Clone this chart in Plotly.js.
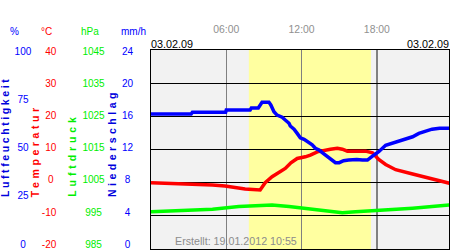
<!DOCTYPE html>
<html>
<head>
<meta charset="utf-8">
<script src="https://cdn.plot.ly/plotly-3.0.1.min.js"></script>
<style>
html,body{margin:0;padding:0;background:#fff;}
#chart{width:450px;height:250px;}
</style>
</head>
<body>
<div id="chart"></div>
<script>
// ---- data (hours of 03.02.09) ----
const humidityTime = [0.0,3.2,3.3,5.95,6.0,7.9,8.0,8.55,8.85,9.4,9.55,9.8,10.05,10.45,10.7,11.0,11.1,11.4,11.65,11.9,12.2,12.6,12.85,13.1,13.4,13.65,13.9,14.2,14.45,14.7,15.0,15.35,15.75,16.4,16.85,17.25,17.65,18.15,18.7,19.25,19.75,20.3,20.85,21.35,21.9,22.4,23.0,23.8];
const humidity = [67.8,67.8,68.7,68.7,69.8,69.8,70.9,70.9,73.7,73.7,72.4,69.0,67.3,66.2,64.8,63.2,61.8,60.2,58.1,55.9,55.1,53.4,52.3,50.6,49.7,48.4,47.2,45.9,44.4,43.4,43.4,44.4,44.7,45.0,44.7,44.7,46.7,48.9,52.1,53.1,54.3,55.3,56.4,58.1,59.4,60.2,60.7,60.7];

const temperatureTime = [0.0,2.2,4.9,5.9,7.5,8.7,9.1,9.65,10.2,10.7,11.15,11.65,12.3,12.7,13.25,13.8,14.3,14.85,15.25,15.65,16.3,17.1,17.65,18.15,18.7,19.5,20.85,22.15,23.8];
const temperature = [0.0,-0.2,-0.7,-1.0,-1.9,-2.2,0.0,1.8,3.0,4.3,6.0,7.3,7.8,8.3,9.3,9.8,10.1,10.4,10.1,9.5,9.5,9.5,9.0,7.0,5.5,3.9,2.6,1.3,-0.2];

const pressureTime = [0.0,2.2,4.9,7.0,8.3,9.65,11.0,12.05,13.4,14.45,15.25,16.3,17.65,19.25,20.85,22.4,23.8];
const pressure = [996.2,996.5,997.0,997.8,998.1,998.3,997.8,997.3,996.8,996.2,995.9,996.2,996.5,996.8,997.3,997.8,998.3];

const daylight = [7.8, 17.53];   // sunrise, sunset (hours)

const hourTicks = [6, 12, 18];
const hourLabels = ['06:00', '12:00', '18:00'];

const humidityTicks = [0, 25, 50, 75, 100];
const humidityLabels = ['0', '25', '50', '75', '100'];
const temperatureTicks = [-20, -10, 0, 10, 20, 30, 40];
const temperatureLabels = ['-20', '-10', '0', '10', '20', '30', '40'];
const pressureTicks = [985, 995, 1005, 1015, 1025, 1035, 1045];
const pressureLabels = ['985', '995', '1005', '1015', '1025', '1035', '1045'];
const rainTicks = [0, 4, 8, 12, 16, 20, 24];
const rainLabels = ['0', '4', '8', '12', '16', '20', '24'];

const dateLabel = '03.02.09';
const createdLabel = 'Erstellt: 19.01.2012 10:55';

// ---- layout helpers ----
const W = 450, H = 250;
const plotL = 151, plotR = 449, plotT = 50, plotB = 249;
const labelTop = 51, labelBot = 244.3;
const px = x => x / W;
const py = y => (H - y) / H;

function labelRange(vals) {
  const vmin = Math.min(...vals), vmax = Math.max(...vals);
  const s = (labelBot - labelTop) / (vmax - vmin);
  return [vmin - (plotB - labelBot) / s, vmax + (labelTop - plotT) / s];
}
const emW = c => (c === '-' ? 0.333 : 0.556);
function centered(labels) {
  const w = labels.map(t => [...t].reduce((a, c) => a + emW(c), 0));
  const m = Math.max(...w);
  return labels.map((t, i) => t + '\u00a0'.repeat(Math.floor((m - w[i]) / 2 / 0.278 + 0.001)));
}

const BLUE = '#0000ff', RED = '#ff0000', GREEN = '#00ee00';
const FONT = 'Liberation Sans, Arial, sans-serif';

function labelAxis(ticks, labels, rightEdge, color) {
  return {
    overlaying: 'y', anchor: 'free', position: px(rightEdge + 3), side: 'left',
    range: labelRange(ticks), tickvals: ticks, ticktext: centered(labels),
    showgrid: false, zeroline: false, showline: false, ticks: '',
    tickfont: {family: FONT, size: 10, color: color}, fixedrange: true
  };
}

const traces = [
  {x: temperatureTime, y: temperature, yaxis: 'y', type: 'scatter', mode: 'lines',
   line: {color: RED, width: 3.5}, hoverinfo: 'skip'},
  {x: humidityTime, y: humidity, yaxis: 'y2', type: 'scatter', mode: 'lines',
   line: {color: BLUE, width: 3.5}, hoverinfo: 'skip'},
  {x: pressureTime, y: pressure, yaxis: 'y3', type: 'scatter', mode: 'lines',
   line: {color: '#00ff00', width: 3.5}, hoverinfo: 'skip'},
  {x: [], y: [], yaxis: 'y4', type: 'scatter', mode: 'lines', hoverinfo: 'skip'},
  {x: [], y: [], yaxis: 'y5', type: 'scatter', mode: 'lines', hoverinfo: 'skip'},
  {x: [], y: [], yaxis: 'y6', type: 'scatter', mode: 'lines', hoverinfo: 'skip'},
  {x: [], y: [], yaxis: 'y7', type: 'scatter', mode: 'lines', hoverinfo: 'skip'}
];

function title(text, cx, color, spacing) {
  return {text: '<span style="letter-spacing:' + spacing + 'px">' + text + '</span>',
    xref: 'paper', yref: 'paper', x: px(cx), y: py(199), xanchor: 'center', yanchor: 'bottom',
    textangle: -90, showarrow: false, font: {family: FONT, size: 10.5, color: color, weight: 'bold'}};
}
function header(text, cx, color) {
  return {text: text, xref: 'paper', yref: 'paper', x: px(cx), y: py(31),
    xanchor: 'center', yanchor: 'middle', showarrow: false,
    font: {family: FONT, size: 10, color: color}};
}

const layout = {
  width: W, height: H, margin: {l: 0, r: 0, t: 0, b: 0},
  paper_bgcolor: '#ffffff', plot_bgcolor: 'rgba(0,0,0,0)',
  showlegend: false, dragmode: false,
  xaxis: {
    domain: [px(plotL), px(plotR)], range: [0, 23.75],
    tickvals: hourTicks, ticktext: hourLabels, side: 'top',
    ticks: 'outside', ticklen: 12, tickcolor: 'rgba(0,0,0,0)',
    tickfont: {family: FONT, size: 10.4, color: '#909090'},
    showgrid: true, gridcolor: '#808080', gridwidth: 1.3,
    showline: true, mirror: true, linecolor: '#000000', linewidth: 1,
    zeroline: false, fixedrange: true
  },
  yaxis: {
    domain: [py(plotB), py(plotT)], range: [-20, 40], tick0: -20, dtick: 10,
    showticklabels: false, ticks: '', showgrid: true, gridcolor: '#000000', gridwidth: 1,
    showline: true, mirror: true, linecolor: '#000000', linewidth: 1,
    zeroline: false, fixedrange: true
  },
  yaxis2: {overlaying: 'y', range: [0, 100], visible: false, fixedrange: true},
  yaxis3: {overlaying: 'y', range: [985, 1045], visible: false, fixedrange: true},
  yaxis4: labelAxis(humidityTicks, humidityLabels, 28.3, BLUE),
  yaxis5: labelAxis(temperatureTicks, temperatureLabels, 53.3, RED),
  yaxis6: labelAxis(pressureTicks, pressureLabels, 101.7, GREEN),
  yaxis7: labelAxis(rainTicks, rainLabels, 130, BLUE),
  shapes: [
    {type: 'rect', xref: 'paper', yref: 'paper', layer: 'below',
     x0: px(plotL), x1: px(plotR), y0: py(plotB), y1: py(plotT),
     fillcolor: '#f2f2f2', line: {width: 0}},
    {type: 'rect', xref: 'x', yref: 'paper', layer: 'below',
     x0: daylight[0], x1: daylight[1], y0: py(plotB), y1: py(plotT),
     fillcolor: '#ffffa0', line: {width: 0}}
  ],
  annotations: [
    header('%', 14, BLUE), header('°C', 46.5, RED), header('hPa', 90, GREEN), header('mm/h', 133, BLUE),
    title('Luftfeuchtigkeit', 5, '#0000dd', 2.6),
    title('Temperatur', 34.7, RED, 3.6),
    title('Luftdruck', 71.7, '#00ee00', 3.9),
    title('Niederschlag', 112, '#0000dd', 3.5),
    {text: dateLabel, xref: 'paper', yref: 'paper', x: px(plotL - 2), y: py(43.5),
     xanchor: 'left', yanchor: 'middle', showarrow: false,
     font: {family: FONT, size: 10.8, color: '#000000'}},
    {text: dateLabel, xref: 'paper', yref: 'paper', x: px(plotR + 2), y: py(43.5),
     xanchor: 'right', yanchor: 'middle', showarrow: false,
     font: {family: FONT, size: 10.8, color: '#000000'}},
    {text: createdLabel, xref: 'paper', yref: 'paper', x: px(173), y: py(241),
     xanchor: 'left', yanchor: 'middle', showarrow: false,
     font: {family: FONT, size: 10.7, color: '#8c8c8c'}}
  ]
};

Plotly.newPlot('chart', traces, layout, {staticPlot: true, displayModeBar: false});
</script>
</body>
</html>
